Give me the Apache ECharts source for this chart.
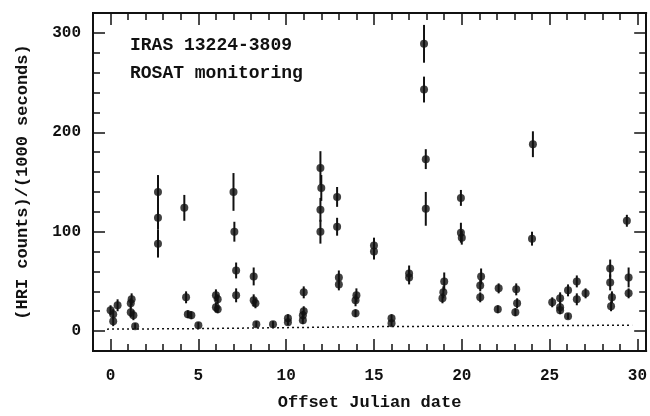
<!DOCTYPE html>
<html>
<head>
<meta charset="utf-8">
<script src="https://cdn.jsdelivr.net/npm/echarts@6/dist/echarts.min.js"></script>
<style>
  html, body { margin: 0; padding: 0; background: #fff; }
  #chart { width: 650px; height: 416px; }
</style>
</head>
<body>
<div id="chart"></div>
<script>
// ROSAT HRI light curve of IRAS 13224-3809
const dateX = [
  0.0, 0.15, 0.15, 0.4,
  1.2, 1.15, 1.15, 1.3, 1.4,
  2.7, 2.7, 2.7,
  4.2, 4.3, 4.4, 4.6, 5.0,
  6.0, 6.1, 6.0, 6.1,
  7.0, 7.05, 7.15, 7.15,
  8.15, 8.15, 8.25, 8.3,
  9.25, 10.1, 10.1,
  11.0, 11.0, 10.95, 10.95,
  11.95, 12.0, 11.95, 11.95,
  12.9, 12.9, 13.0, 13.0,
  14.0, 13.95, 13.95,
  15.0, 15.0,
  16.0, 16.0,
  17.0, 17.0,
  17.85, 17.85, 17.95, 17.95,
  19.0, 18.95, 18.9,
  19.95, 19.95, 20.0,
  21.1, 21.05, 21.05,
  22.1, 22.05,
  23.1, 23.15, 23.05,
  24.05, 24.0,
  25.15, 25.6, 25.6, 25.6, 26.05, 26.05,
  26.55, 26.55, 27.05,
  28.45, 28.45, 28.55, 28.5,
  29.4, 29.5, 29.5
];
const countY = [
  21, 17, 10, 26,
  32, 28, 19, 16, 5,
  140, 114, 88,
  124, 34, 17, 16, 6,
  36, 32, 24, 22,
  140, 100, 61, 36,
  55, 31, 28, 7,
  7, 13, 9,
  39, 20, 16, 11,
  164, 144, 122, 100,
  135, 105, 54, 47,
  36, 31, 18,
  86, 80,
  13, 8,
  58, 54,
  289, 243, 173, 123,
  50, 39, 33,
  134, 99, 94,
  55, 46, 34,
  43, 22,
  42, 28, 19,
  188, 93,
  29, 33, 24, 21, 15, 41,
  50, 32, 38,
  63, 49, 34, 25,
  111, 54, 38
];
const errY = [
  5, 5, 5, 6,
  6, 5, 5, 5, 3,
  17, 12, 14,
  13, 6, 4, 4, 3,
  6, 5, 5, 4,
  19, 10, 8, 7,
  9, 6, 5, 3,
  3, 4, 3,
  6, 5, 4, 4,
  17, 13, 12, 12,
  10, 9, 7, 6,
  7, 6, 4,
  8, 8,
  4, 3,
  8, 7,
  19, 13, 10, 17,
  9, 6, 5,
  8, 10, 7,
  8, 6, 5,
  5, 4,
  6, 5, 4,
  13, 7,
  5, 6, 5, 4, 3, 6,
  6, 6, 5,
  9, 8, 6, 5,
  6, 10, 5
];

// background level (dotted)
const bgX = [-0.2, 5, 10, 15, 20, 25, 29.7];
const bgY = [2, 2.5, 3.5, 4.5, 5, 5.5, 6];

const xMajor = [0, 5, 10, 15, 20, 25, 30];
const xMinor = [-1, 0, 1, 2, 3, 4, 5, 6, 7, 8, 9, 10, 11, 12, 13, 14, 15,
  16, 17, 18, 19, 20, 21, 22, 23, 24, 25, 26, 27, 28, 29, 30];
const yMajor = [0, 100, 200, 300];
const yMinor = [-20, 0, 20, 40, 60, 80, 100, 120, 140, 160, 180, 200, 220,
  240, 260, 280, 300, 320];

const font = 'Liberation Mono';
const ink = '#111';

const chart = echarts.init(document.getElementById('chart'));

function xAx(pos, ticks, len, main) {
  return {
    type: 'value', position: pos, min: -1, max: 30.5,
    axisLine: { show: true, onZero: false, lineStyle: { color: ink, width: 2 } },
    axisTick: { show: true, inside: true, length: len, customValues: ticks,
      lineStyle: { color: ink, width: 1.5 } },
    axisLabel: main
      ? { show: true, customValues: xMajor, margin: 17, color: ink,
          fontFamily: font, fontWeight: 'bold', fontSize: 16 }
      : { show: false },
    splitLine: { show: false },
    name: main ? 'Offset Julian date' : '',
    nameLocation: 'middle', nameGap: 43,
    nameTextStyle: { color: ink, fontFamily: font, fontWeight: 'bold', fontSize: 17 }
  };
}

function yAx(pos, ticks, len, main) {
  return {
    type: 'value', position: pos, min: -20, max: 320,
    axisLine: { show: true, onZero: false, lineStyle: { color: ink, width: 2 } },
    axisTick: { show: true, inside: true, length: len, customValues: ticks,
      lineStyle: { color: ink, width: 1.5 } },
    axisLabel: main
      ? { show: true, customValues: yMajor, margin: 12, color: ink,
          fontFamily: font, fontWeight: 'bold', fontSize: 16 }
      : { show: false },
    splitLine: { show: false },
    name: main ? '(HRI counts)/(1000 seconds)' : '',
    nameLocation: 'middle', nameGap: 62,
    nameTextStyle: { color: ink, fontFamily: font, fontWeight: 'bold', fontSize: 17 }
  };
}

const option = {
  backgroundColor: '#fff',
  animation: false,
  title: {
    text: 'IRAS 13224-3809\nROSAT monitoring',
    left: 130, top: 31, padding: 0,
    textStyle: { color: ink, fontFamily: font, fontWeight: 'bold', fontSize: 18, lineHeight: 28 }
  },
  grid: { left: 93, right: 3, top: 13, bottom: 55 },
  xAxis: [
    xAx('bottom', xMajor, 12, true),
    xAx('bottom', xMinor, 7, false),
    xAx('top', xMajor, 12, false),
    xAx('top', xMinor, 7, false)
  ],
  yAxis: [
    yAx('left', yMajor, 12, true),
    yAx('left', yMinor, 7, false),
    yAx('right', yMajor, 12, false),
    yAx('right', yMinor, 7, false)
  ],
  series: [
    {
      type: 'line',
      data: bgX.map((x, i) => [x, bgY[i]]),
      showSymbol: false,
      lineStyle: { color: ink, width: 1.5, type: [2, 3] },
      silent: true
    },
    {
      type: 'custom',
      data: dateX.map((x, i) => [x, countY[i], errY[i]]),
      renderItem: function (params, api) {
        const x = api.value(0), y = api.value(1), e = api.value(2);
        const lo = api.coord([x, y - e]);
        const hi = api.coord([x, y + e]);
        return {
          type: 'line',
          shape: { x1: lo[0], y1: lo[1], x2: hi[0], y2: hi[1] },
          style: { stroke: ink, lineWidth: 2 }
        };
      },
      encode: { x: 0, y: 1 },
      silent: true
    },
    {
      type: 'scatter',
      data: dateX.map((x, i) => [x, countY[i]]),
      symbol: 'circle',
      symbolSize: 8,
      itemStyle: { color: ink },
      silent: true
    }
  ]
};

chart.setOption(option);
</script>
</body>
</html>
